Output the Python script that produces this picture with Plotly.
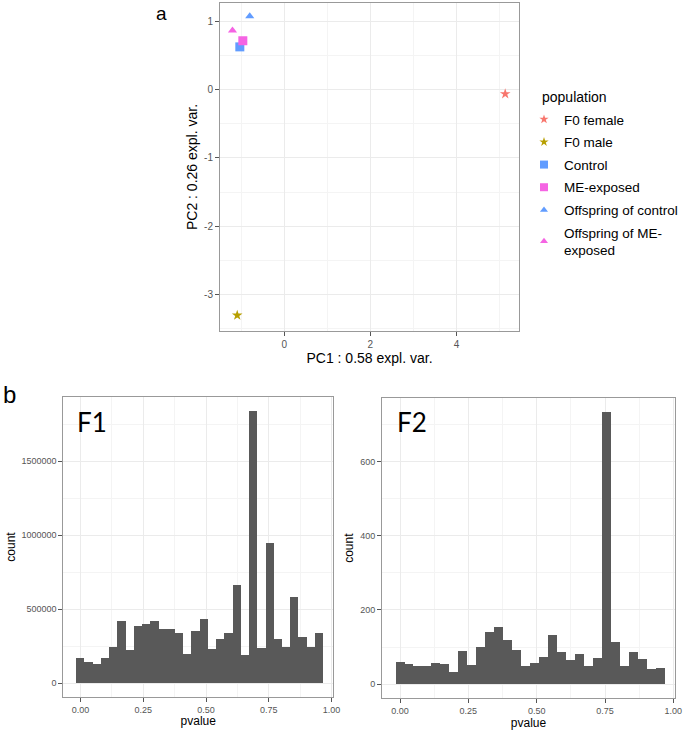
import plotly.graph_objects as go

# ---------------- data ----------------
populations = ["F0 female", "F0 male", "Control", "ME-exposed",
               "Offspring of control", "Offspring of ME-exposed"]
pc1 = [5.13, -1.09, -1.03, -0.96, -0.80, -1.20]
pc2 = [-0.06, -3.31, 0.63, 0.72, 1.08, 0.87]
pop_colors = ["#F8766D", "#B79F00", "#619CFF", "#F564E3", "#619CFF", "#F564E3"]
pop_symbols = ["star", "star", "square", "square", "triangle-up", "triangle-up"]
pop_legend = ["F0 female", "F0 male", "Control", "ME-exposed",
              "Offspring of control", "Offspring of ME-<br>exposed"]

pc1_ticks = [0, 2, 4]
pc2_ticks = [-3, -2, -1, 0, 1]
pc2_ticktext = ["-3", "-2", "-1", "0", "1"]

n_bins = 30
bin_width = 0.0328
bin_centers = [i * bin_width for i in range(n_bins)]

f1_counts = [170000, 144000, 126000, 171000, 243000, 417000, 221000, 387000,
             399000, 417000, 363000, 363000, 338000, 198000, 354000, 435000,
             232000, 297000, 338000, 664000, 187000, 1835000, 239000, 946000,
             297000, 241000, 579000, 308000, 241000, 338000]
f2_counts = [59, 55, 48, 48, 56, 55, 34, 90, 51, 100, 142, 153, 118, 91, 50,
             57, 74, 133, 88, 65, 81, 50, 72, 733, 115, 49, 86, 67, 41, 45]

pval_ticks = [0.0, 0.25, 0.5, 0.75, 1.0]
f1_ticks = [0, 500000, 1000000, 1500000]
f2_ticks = [0, 200, 400, 600]

# ---------------- figure ----------------
W, H = 685, 733
FONT = "Liberation Sans, Arial, sans-serif"
GRID = "#EBEBEB"
MINOR = "#F4F4F4"
BORDER = "#999999"
TICKC = "#555555"

plot_size = {"star": 8, "square": 9, "triangle-up": 8}
legend_size = {"star": 7, "square": 8, "triangle-up": 7}

fig = go.Figure()

for i, p in enumerate(populations):
    fig.add_trace(go.Scatter(
        x=[pc1[i]], y=[pc2[i]], mode="markers", name=p,
        marker=dict(color=pop_colors[i], symbol=pop_symbols[i],
                    size=plot_size[pop_symbols[i]], line=dict(width=0)),
        xaxis="x", yaxis="y", showlegend=False))

# legend entries (smaller keys, as in the reference legend)
for i, p in enumerate(populations):
    fig.add_trace(go.Scatter(
        x=[None], y=[None], mode="markers", name=pop_legend[i],
        legendgroup="g%d" % i,
        marker=dict(color=pop_colors[i], symbol=pop_symbols[i],
                    size=legend_size[pop_symbols[i]], line=dict(width=0)),
        xaxis="x", yaxis="y", showlegend=True))

fig.add_trace(go.Bar(x=bin_centers, y=f1_counts, width=bin_width,
                     marker=dict(color="#595959", line=dict(width=0)),
                     xaxis="x2", yaxis="y2", showlegend=False))
fig.add_trace(go.Bar(x=bin_centers, y=f2_counts, width=bin_width,
                     marker=dict(color="#595959", line=dict(width=0)),
                     xaxis="x3", yaxis="y3", showlegend=False))


def px_x(a, b):
    return [a / W, b / W]


def px_y(top, bottom):
    return [1 - bottom / H, 1 - top / H]


def ax(tick_size, **kw):
    d = dict(showline=True, mirror=True, linecolor=BORDER, linewidth=1,
             ticks="outside", ticklen=4, tickcolor="#555555", tickwidth=1,
             gridcolor=GRID, gridwidth=1, zeroline=False, automargin=False,
             tickfont=dict(family=FONT, size=tick_size, color=TICKC))
    d.update(kw)
    return d


fig.update_layout(
    width=W, height=H, margin=dict(l=0, r=0, t=0, b=0),
    paper_bgcolor="white", plot_bgcolor="white",
    font=dict(family=FONT, color="black"),
    bargap=0,
    xaxis=ax(10, domain=px_x(220, 519), range=[-1.49, 5.45], anchor="y",
             tickvals=pc1_ticks,
             minor=dict(dtick=1, tick0=1, showgrid=True, gridcolor=MINOR, ticks=""),
             title=dict(text="PC1 : 0.58 expl. var.", standoff=4,
                        font=dict(family=FONT, size=14))),
    yaxis=ax(10, domain=px_y(3, 331), range=[-3.54, 1.274], anchor="x",
             tickvals=pc2_ticks, ticktext=pc2_ticktext,
             minor=dict(dtick=0.5, tick0=0.5, showgrid=True, gridcolor=MINOR, ticks=""),
             title=dict(text="PC2 : 0.26 expl. var.", standoff=3,
                        font=dict(family=FONT, size=14))),
    xaxis2=ax(9, domain=px_x(63.3, 333.3), range=[-0.069, 1.007], anchor="y2",
              tickvals=pval_ticks, tickformat=".2f",
              minor=dict(dtick=0.125, tick0=0.125, showgrid=True, gridcolor=MINOR, ticks=""),
              title=dict(text="pvalue", standoff=3, font=dict(family=FONT, size=12))),
    yaxis2=ax(9, domain=px_y(397.3, 696.7), range=[-90540, 1932432], anchor="x2",
              tickvals=f1_ticks, tickformat="d",
              minor=dict(dtick=250000, tick0=250000, showgrid=True, gridcolor=MINOR, ticks=""),
              title=dict(text="count", standoff=3, font=dict(family=FONT, size=12))),
    xaxis3=ax(9, domain=px_x(382, 675), range=[-0.066, 1.006], anchor="y3",
              tickvals=pval_ticks, tickformat=".2f",
              minor=dict(dtick=0.125, tick0=0.125, showgrid=True, gridcolor=MINOR, ticks=""),
              title=dict(text="pvalue", standoff=3, font=dict(family=FONT, size=12))),
    yaxis3=ax(9, domain=px_y(398, 698.3), range=[-37.7, 770.5], anchor="x3",
              tickvals=f2_ticks, tickformat="d",
              minor=dict(dtick=100, tick0=100, showgrid=True, gridcolor=MINOR, ticks=""),
              title=dict(text="count", standoff=3, font=dict(family=FONT, size=12))),
    legend=dict(x=524 / W, y=1 - 104 / H, xanchor="left", yanchor="top",
                font=dict(family=FONT, size=13.5), bgcolor="rgba(0,0,0,0)",
                tracegroupgap=2.1, traceorder="grouped"),
    annotations=[
        dict(text="population", x=540 / W, y=1 - 97 / H, xref="paper", yref="paper",
             showarrow=False, font=dict(family=FONT, size=14, color="black"),
             xanchor="left", yanchor="middle"),
        dict(text="a", x=161 / W, y=1 - 1 / H, xref="paper", yref="paper",
             showarrow=False, font=dict(family=FONT, size=19, color="black"),
             xanchor="center", yanchor="top"),
        dict(text="b", x=9 / W, y=1 - 394 / H, xref="paper", yref="paper",
             showarrow=False, font=dict(family=FONT, size=24, color="black"),
             xanchor="center", yanchor="middle"),
        dict(text="F1", x=75 / W, y=1 - 422 / H, xref="paper", yref="paper",
             showarrow=False, font=dict(family="Lato, Open Sans, sans-serif", size=26, color="black"),
             xanchor="left", yanchor="middle"),
        dict(text="F2", x=395 / W, y=1 - 422 / H, xref="paper", yref="paper",
             showarrow=False, font=dict(family="Lato, Open Sans, sans-serif", size=26, color="black"),
             xanchor="left", yanchor="middle"),
    ],
)

fig.write_html("out.html", config={"displayModeBar": False},
               post_script="document.body.style.margin='0px';"
                           "document.body.style.overflow='hidden';")
